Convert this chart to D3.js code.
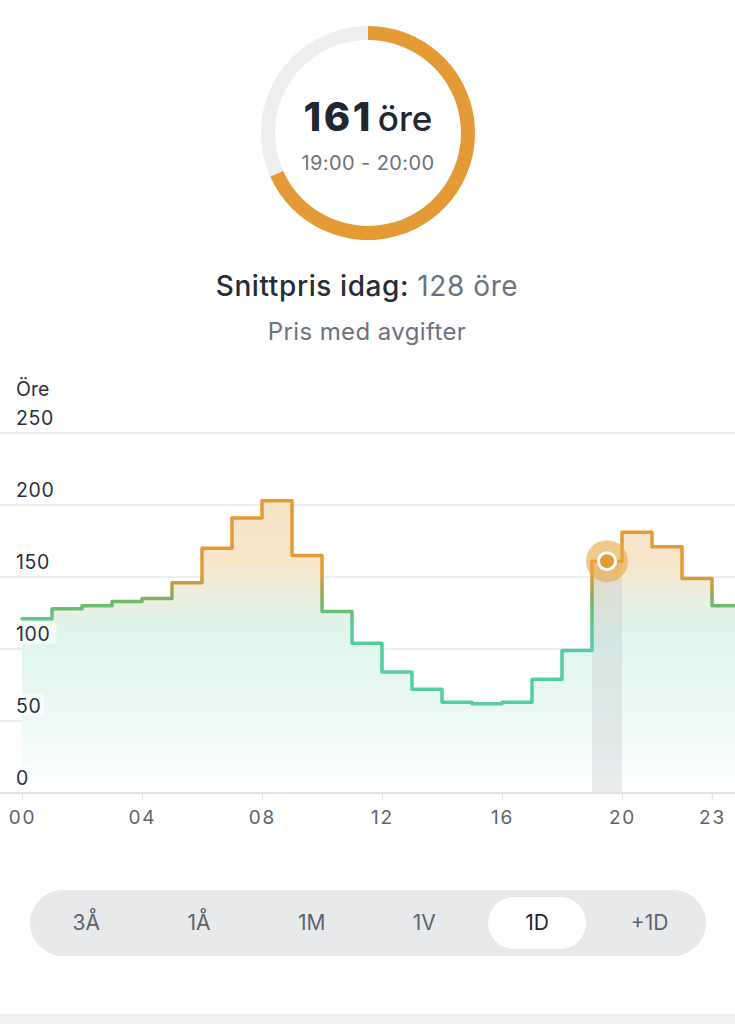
<!DOCTYPE html>
<html>
<head>
<meta charset="utf-8">
<script src="https://cdn.jsdelivr.net/npm/d3@7"></script>
<style>
  body { margin: 0; background: #fff; }
  svg { display: block; font-family: Inter, "Noto Sans", sans-serif; }
</style>
</head>
<body>
<script>
// price per hour, öre
var hours = [0, 1, 2, 3, 4, 5, 6, 7, 8, 9, 10, 11, 12, 13, 14, 15, 16, 17, 18, 19, 20, 21, 22, 23];
var prices = [121, 128, 130, 133, 135, 146, 170, 191, 203, 165, 126, 104, 84, 72, 63, 62, 63, 79, 99, 161, 181, 171, 149, 130];
var yTicks = [0, 50, 100, 150, 200, 250];
var xTicks = [0, 4, 8, 12, 16, 20, 23];
var periods = ["3Å", "1Å", "1M", "1V", "1D", "+1D"];
var activePeriod = "1D";
var currentHour = 19;
var gaugeShare = 0.683;
var averagePrice = 128;

var width = 735, height = 1024;

var svg = d3.select("body")
        .append("svg")
        .attr("width", width)
        .attr("height", height);

var defs = svg.append("defs");

// ---------- gauge ----------
var gx = 368, gy = 133;
var ring = d3.arc().innerRadius(93).outerRadius(107);

var gauge = svg.append("g").attr("transform", "translate(" + gx + "," + gy + ")");
gauge.append("path")
        .attr("d", ring({ startAngle: 0, endAngle: 2 * Math.PI }))
        .attr("fill", "#eeeff1");
gauge.append("path")
        .attr("d", ring({ startAngle: 0, endAngle: 2 * Math.PI * gaugeShare }))
        .attr("fill", "#e49b36");

var big = gauge.append("text")
        .attr("y", -2)
        .attr("text-anchor", "middle")
        .attr("fill", "#1f2732");
big.append("tspan")
        .attr("font-size", 40)
        .attr("font-weight", 800)
        .attr("letter-spacing", 2.5)
        .text(prices[currentHour]);
big.append("tspan")
        .attr("dx", 5)
        .attr("font-size", 35)
        .attr("font-weight", 500)
        .text("öre");

gauge.append("text")
        .attr("y", 37)
        .attr("text-anchor", "middle")
        .attr("font-size", 20)
        .attr("letter-spacing", 0.4)
        .attr("fill", "#6b7280")
        .text(d3.format("02")(currentHour) + ":00 - " + d3.format("02")(currentHour + 1) + ":00");

var avg = svg.append("text")
        .attr("x", 367)
        .attr("y", 296)
        .attr("text-anchor", "middle")
        .attr("font-size", 28)
        .attr("letter-spacing", 0.6);
avg.append("tspan").attr("fill", "#262d36").attr("font-weight", 500).text("Snittpris idag: ");
avg.append("tspan").attr("fill", "#6b7280").text(averagePrice + " öre");

svg.append("text")
        .attr("x", 367)
        .attr("y", 340)
        .attr("text-anchor", "middle")
        .attr("font-size", 24)
        .attr("letter-spacing", 0.4)
        .attr("fill", "#6b7280")
        .text("Pris med avgifter");

// ---------- chart ----------
var x = d3.scaleLinear().domain([0, 24]).range([22, 742]);
var y = d3.scaleLinear().domain([0, 250]).range([793, 433]);

var steps = hours.map(function(h, i) { return { h: h, v: prices[i] }; });
steps.push({ h: 24, v: prices[prices.length - 1] });

// gradients
var lineGrad = defs.append("linearGradient")
        .attr("id", "lineGrad")
        .attr("gradientUnits", "userSpaceOnUse")
        .attr("x1", 0).attr("x2", 0)
        .attr("y1", y(0)).attr("y2", y(250));
[[0, "#4fd1a5"], [112, "#55cd9c"], [133, "#70b967"], [144, "#bc9f40"], [152, "#e49b36"], [250, "#e49b36"]]
        .forEach(function(s) {
            lineGrad.append("stop")
                    .attr("offset", s[0] / 250)
                    .attr("stop-color", s[1]);
        });

var areaGrad = defs.append("linearGradient")
        .attr("id", "areaGrad")
        .attr("gradientUnits", "userSpaceOnUse")
        .attr("x1", 0).attr("x2", 0)
        .attr("y1", y(0)).attr("y2", y(250));
[[0, "#ffffff"], [40, "#effaf6"], [110, "#dff5ee"], [135, "#eaf0e0"], [160, "#f8e6cb"], [250, "#f7e2c2"]]
        .forEach(function(s) {
            areaGrad.append("stop")
                    .attr("offset", s[0] / 250)
                    .attr("stop-color", s[1]);
        });

// grid
svg.append("g")
        .selectAll("line")
        .data(yTicks)
        .enter()
        .append("line")
        .attr("x1", 0)
        .attr("x2", width)
        .attr("y1", function(d) { return y(d); })
        .attr("y2", function(d) { return y(d); })
        .attr("stroke", "#e7e8ea")
        .attr("stroke-width", 1.5);

// area
var area = d3.area()
        .curve(d3.curveStepAfter)
        .x(function(d) { return x(d.h); })
        .y0(y(0))
        .y1(function(d) { return y(d.v); });

svg.append("path")
        .datum(steps)
        .attr("d", area)
        .attr("fill", "url(#areaGrad)");

// current hour band
svg.append("rect")
        .attr("x", x(currentHour))
        .attr("width", x(currentHour + 1) - x(currentHour))
        .attr("y", y(prices[currentHour]))
        .attr("height", y(0) - y(prices[currentHour]))
        .attr("fill", "#9aa3ad")
        .attr("opacity", 0.18);

// y labels
var yl = svg.append("g")
        .selectAll("g")
        .data(yTicks)
        .enter()
        .append("g");
yl.append("rect")
        .attr("x", 14)
        .attr("y", function(d) { return y(d) - 27; })
        .attr("width", function(d) { return String(d).length * 12.5 + 5; })
        .attr("height", 22)
        .attr("rx", 3)
        .attr("fill", "#fff")
        .attr("opacity", 0.6);
yl.append("text")
        .attr("x", 16)
        .attr("y", function(d) { return y(d) - 8; })
        .attr("font-size", 19.5)
        .attr("letter-spacing", 0.6)
        .attr("fill", "#2b3038")
        .text(function(d) { return d; });

svg.append("text")
        .attr("x", 16)
        .attr("y", 396)
        .attr("font-size", 19.5)
        .attr("fill", "#2b3038")
        .text("Öre");

// line
var line = d3.line()
        .curve(d3.curveStepAfter)
        .x(function(d) { return x(d.h); })
        .y(function(d) { return y(d.v); });

svg.append("path")
        .datum(steps)
        .attr("d", line)
        .attr("fill", "none")
        .attr("stroke", "url(#lineGrad)")
        .attr("stroke-width", 3.5)
        .attr("stroke-linejoin", "round")
        .attr("stroke-linecap", "round");

// x axis
svg.append("line")
        .attr("x1", 0)
        .attr("x2", width)
        .attr("y1", y(0))
        .attr("y2", y(0))
        .attr("stroke", "#e3e5e8")
        .attr("stroke-width", 2);

var xAxis = svg.append("g")
        .attr("transform", "translate(0," + y(0) + ")")
        .call(d3.axisBottom(x)
                .tickValues(xTicks)
                .tickSize(7)
                .tickPadding(11)
                .tickFormat(d3.format("02")));
xAxis.select(".domain").remove();
xAxis.selectAll(".tick line").attr("stroke", "#e3e5e8").attr("stroke-width", 1.5);
xAxis.selectAll(".tick text")
        .attr("font-family", "Inter, 'Noto Sans', sans-serif")
        .attr("font-size", 19)
        .attr("fill", "#5c6470")
        .attr("letter-spacing", 1.8);

// marker
var mx = x(currentHour + 0.5), my = y(prices[currentHour]);
svg.append("circle").attr("cx", mx).attr("cy", my).attr("r", 21).attr("fill", "#e9a844").attr("opacity", 0.62);
svg.append("circle").attr("cx", mx).attr("cy", my).attr("r", 10).attr("fill", "#fff");
svg.append("circle").attr("cx", mx).attr("cy", my).attr("r", 7).attr("fill", "#e49b36");

// ---------- period selector ----------
var bx = d3.scaleBand().domain(periods).range([30, 706]);

svg.append("rect")
        .attr("x", 30)
        .attr("y", 890)
        .attr("width", 676)
        .attr("height", 66)
        .attr("rx", 33)
        .attr("fill", "#e8e9eb");

svg.append("rect")
        .attr("x", bx(activePeriod) + bx.bandwidth() / 2 - 49)
        .attr("y", 897)
        .attr("width", 98)
        .attr("height", 52)
        .attr("rx", 26)
        .attr("fill", "#fff");

svg.append("g")
        .selectAll("text")
        .data(periods)
        .enter()
        .append("text")
        .attr("x", function(d) { return bx(d) + bx.bandwidth() / 2; })
        .attr("y", 930)
        .attr("text-anchor", "middle")
        .attr("font-size", 21)
        .attr("fill", function(d) { return d == activePeriod ? "#1f2630" : "#5c6470"; })
        .text(function(d) { return d; });

svg.append("rect")
        .attr("x", 0)
        .attr("y", 1014)
        .attr("width", width)
        .attr("height", 10)
        .attr("fill", "#eff0f2");
</script>
</body>
</html>
